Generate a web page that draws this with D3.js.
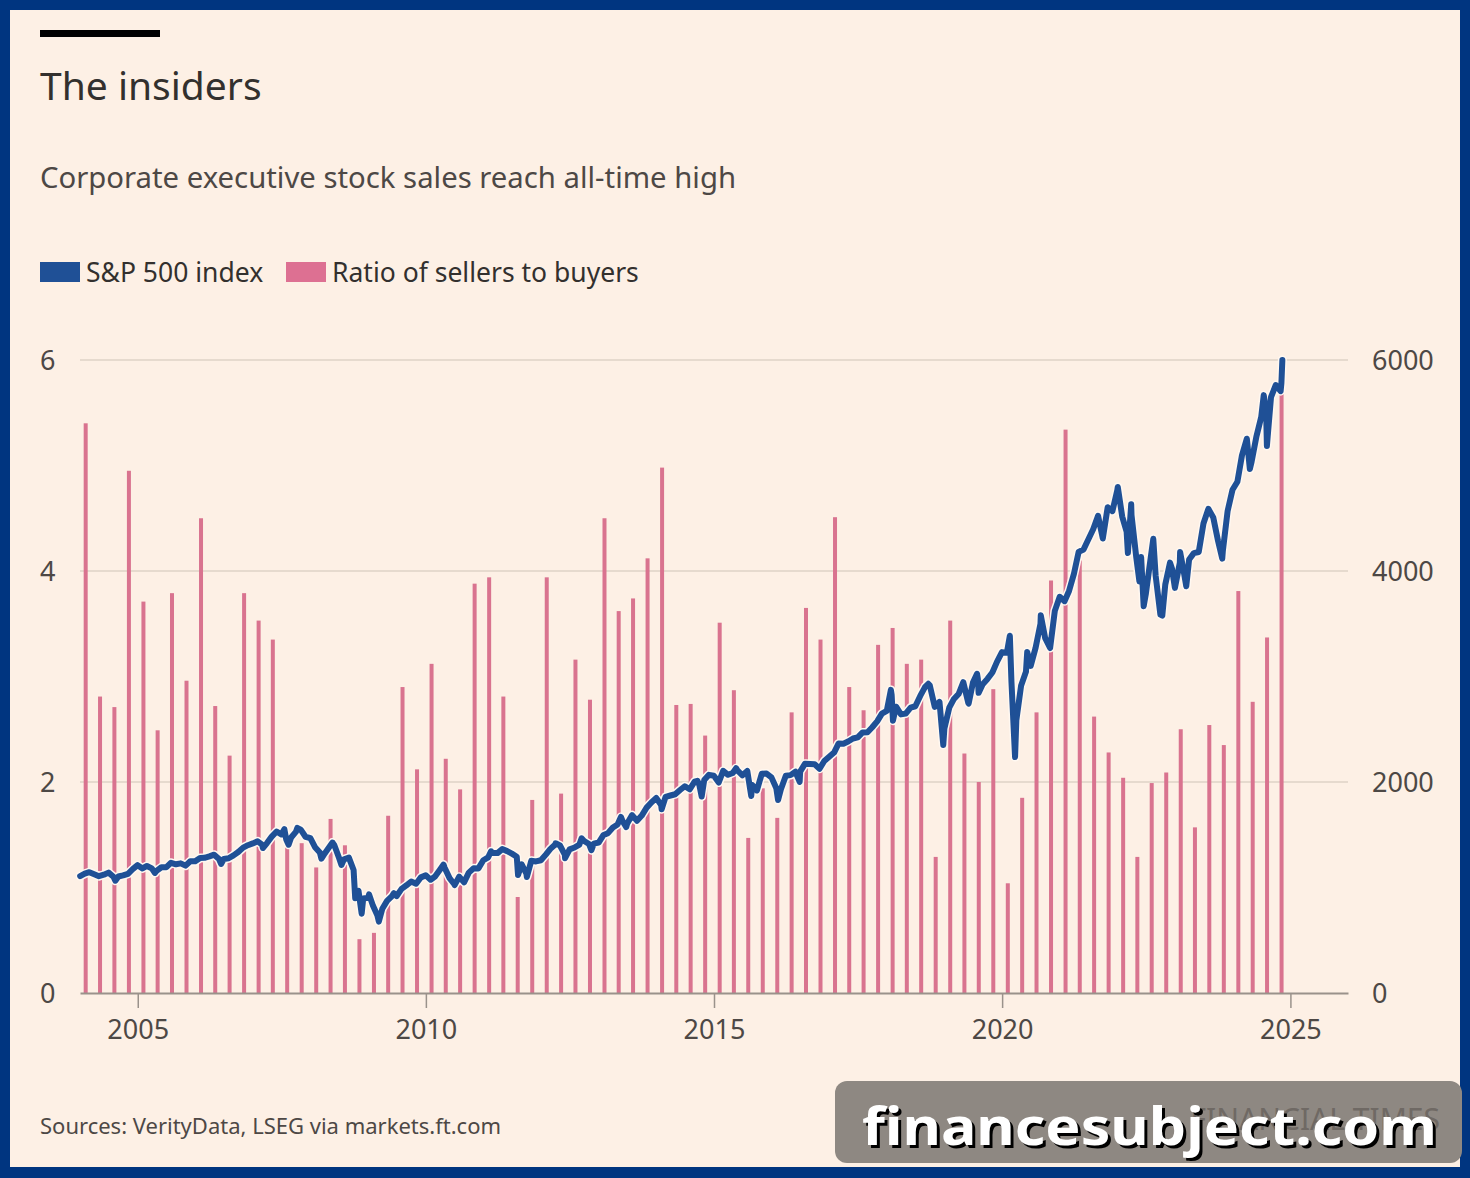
<!DOCTYPE html>
<html>
<head>
<meta charset="utf-8">
<script src="https://cdn.jsdelivr.net/npm/d3@7"></script>
<style>
  html, body { margin: 0; padding: 0; background: #003580; }
  svg { display: block; }
  text { font-family: "Noto Sans", sans-serif; }
</style>
</head>
<body>
<div id="chart"></div>
<script>
// Ratio of sellers to buyers, one value per quarter (Q1..Q4), 2004 to 2024
const barYears = d3.range(2004, 2025);
const ratio = [
  5.40, 2.81, 2.71, 4.95,  // 2004
  3.71, 2.49, 3.79, 2.96,  // 2005
  4.50, 2.72, 2.25, 3.79,  // 2006
  3.53, 3.35, 1.40, 1.42,  // 2007
  1.19, 1.65, 1.40, 0.51,  // 2008
  0.57, 1.68, 2.90, 2.12,  // 2009
  3.12, 2.22, 1.93, 3.88,  // 2010
  3.94, 2.81, 0.91, 1.83,  // 2011
  3.94, 1.89, 3.16, 2.78,  // 2012
  4.50, 3.62, 3.74, 4.12,  // 2013
  4.98, 2.73, 2.74, 2.44,  // 2014
  3.51, 2.87, 1.47, 1.94,  // 2015
  1.66, 2.66, 3.65, 3.35,  // 2016
  4.51, 2.90, 2.68, 3.30,  // 2017
  3.46, 3.12, 3.16, 1.29,  // 2018
  3.53, 2.27, 2.00, 2.88,  // 2019
  1.04, 1.85, 2.66, 3.91,  // 2020
  5.34, 4.10, 2.62, 2.28,  // 2021
  2.04, 1.29, 1.99, 2.09,  // 2022
  2.50, 1.57, 2.54, 2.35,  // 2023
  3.81, 2.76, 3.37, 5.69   // 2024
];

// S&P 500 month-end levels, Jan 2004 .. Oct 2024
const spxStart = "2004-01";
const spxMonthly = [
  1131, 1145, 1126, 1107, 1121, 1141, 1102, 1104, 1115, 1130, 1174, 1212, // 2004
  1181, 1204, 1181, 1157, 1192, 1191, 1234, 1220, 1229, 1207, 1249, 1248, // 2005
  1280, 1281, 1295, 1311, 1270, 1270, 1277, 1304, 1336, 1378, 1401, 1418, // 2006
  1438, 1407, 1421, 1482, 1531, 1503, 1455, 1474, 1527, 1549, 1481, 1468, // 2007
  1379, 1331, 1323, 1386, 1400, 1280, 1267, 1283, 1166,  969,  896,  903, // 2008
   826,  735,  798,  873,  919,  919,  987, 1021, 1057, 1036, 1096, 1115, // 2009
  1074, 1104, 1169, 1187, 1089, 1031, 1102, 1049, 1141, 1183, 1181, 1258, // 2010
  1286, 1327, 1326, 1364, 1345, 1321, 1292, 1219, 1131, 1253, 1247, 1258, // 2011
  1312, 1366, 1408, 1398, 1310, 1362, 1379, 1407, 1441, 1412, 1416, 1426, // 2012
  1498, 1515, 1569, 1598, 1631, 1606, 1686, 1633, 1682, 1757, 1806, 1848, // 2013
  1783, 1859, 1872, 1884, 1924, 1960, 1931, 2003, 1972, 2018, 2068, 2059, // 2014
  1995, 2105, 2068, 2086, 2107, 2063, 2104, 1972, 1920, 2079, 2080, 2044, // 2015
  1940, 1932, 2060, 2065, 2097, 2099, 2174, 2171, 2168, 2126, 2199, 2239, // 2016
  2279, 2364, 2363, 2384, 2412, 2423, 2470, 2472, 2519, 2575, 2648, 2674, // 2017
  2824, 2714, 2641, 2648, 2705, 2718, 2816, 2902, 2914, 2712, 2760, 2507, // 2018
  2704, 2784, 2834, 2946, 2752, 2942, 2980, 2926, 2977, 3038, 3141, 3231, // 2019
  3226, 2954, 2585, 2912, 3044, 3100, 3271, 3500, 3363, 3270, 3622, 3756, // 2020
  3714, 3811, 3973, 4181, 4204, 4298, 4395, 4523, 4308, 4605, 4567, 4766, // 2021
  4516, 4374, 4530, 4132, 4132, 3785, 4130, 3955, 3586, 3872, 4080, 3840, // 2022
  4077, 3970, 4109, 4169, 4180, 4450, 4589, 4508, 4288, 4194, 4568, 4770, // 2023
  4846, 5096, 5254, 5036, 5278, 5460, 5522, 5648, 5762, 5705              // 2024
];

// intra-month highs and lows seen on the line
const spxTurns = [
  ["2004-01-02", 1108], ["2004-08-12", 1064], ["2005-04-20", 1138], ["2006-06-13", 1223],
  ["2007-03-05", 1374], ["2007-07-19", 1553], ["2007-08-15", 1406], ["2007-10-09", 1565],
  ["2008-03-10", 1273], ["2008-05-19", 1426], ["2008-07-15", 1214], ["2008-10-10", 899],
  ["2008-11-20", 752],  ["2009-01-06", 935],  ["2009-03-09", 677],  ["2009-06-12", 946],
  ["2010-04-23", 1217], ["2010-07-02", 1023], ["2011-02-18", 1343], ["2011-08-08", 1119],
  ["2011-10-03", 1099], ["2012-04-02", 1419], ["2012-06-01", 1278], ["2012-09-14", 1466],
  ["2012-11-15", 1353], ["2013-05-21", 1669], ["2013-06-24", 1573], ["2014-02-03", 1742],
  ["2014-09-18", 2011], ["2014-10-15", 1862], ["2015-05-21", 2131], ["2015-08-25", 1868],
  ["2016-02-11", 1829], ["2016-06-27", 2001], ["2018-01-26", 2873], ["2018-02-08", 2581],
  ["2018-09-20", 2931], ["2018-12-24", 2351], ["2019-06-03", 2744], ["2019-07-26", 3026],
  ["2019-08-05", 2845], ["2020-02-19", 3386], ["2020-03-23", 2237], ["2020-06-08", 3232],
  ["2020-09-02", 3580], ["2022-01-03", 4797], ["2022-03-08", 4170], ["2022-03-29", 4632],
  ["2022-05-20", 3901], ["2022-06-16", 3667], ["2022-08-16", 4305], ["2022-10-12", 3577],
  ["2022-12-13", 4019], ["2023-02-02", 4179], ["2023-03-13", 3855], ["2023-10-27", 4117],
  ["2024-04-19", 4967], ["2024-07-16", 5667], ["2024-08-05", 5186], ["2024-11-05", 5782],
  ["2024-11-11", 6001]
];

const leftTicks = [0, 2, 4, 6];
const rightTicks = [0, 2000, 4000, 6000];
const yearTicks = [2005, 2010, 2015, 2020, 2025];

const W = 1470, H = 1178;
const plot = { left: 80, right: 1348, top: 360, bottom: 993 };
const paper = "#fdf0e5";
const blue = "#1f5096";
const pink = "#d9738f";

const parseDay = d3.timeParse("%Y-%m-%d");
const parseMonth = d3.timeParse("%Y-%m");

// build the line series
const monthStart = parseMonth(spxStart);
const spx = spxMonthly.map((v, i) => ({
  date: d3.timeDay.offset(d3.timeMonth.offset(monthStart, i + 1), -1),
  value: v
})).concat(spxTurns.map(d => ({ date: parseDay(d[0]), value: d[1] })))
  .sort((a, b) => a.date - b.date);

// bars, placed a little into each quarter
const bars = ratio.map((v, i) => ({
  date: d3.timeDay.offset(new Date(barYears[0] + Math.floor(i / 4), (i % 4) * 3, 1), 36),
  value: v
}));

const svg = d3.select("#chart").append("svg")
  .attr("width", W).attr("height", H);

svg.append("rect").attr("width", W).attr("height", H).attr("fill", "#003580");
svg.append("rect").attr("x", 10).attr("y", 10)
  .attr("width", W - 20).attr("height", 1157).attr("fill", paper);

const x = d3.scaleTime()
  .domain([new Date(2004, 0, 1), new Date(2026, 0, 1)])
  .range([plot.left, plot.right]);
const yL = d3.scaleLinear().domain([0, 6]).range([plot.bottom, plot.top]);
const yR = d3.scaleLinear().domain([0, 6000]).range([plot.bottom, plot.top]);

// header
svg.append("rect").attr("x", 40).attr("y", 30).attr("width", 120).attr("height", 7).attr("fill", "#000");
svg.append("text").attr("x", 40).attr("y", 100)
  .attr("font-size", 39).attr("fill", "#33302e").text("The insiders");
svg.append("text").attr("x", 40).attr("y", 188)
  .attr("font-size", 29.3).attr("fill", "#4d4845")
  .text("Corporate executive stock sales reach all-time high");

// legend
const legend = [
  { label: "S&P 500 index", color: blue, x: 40 },
  { label: "Ratio of sellers to buyers", color: "#dd7092", x: 286 }
];
const lg = svg.append("g").selectAll("g").data(legend).enter().append("g");
lg.append("rect").attr("x", d => d.x).attr("y", 262).attr("width", 40).attr("height", 20).attr("fill", d => d.color);
lg.append("text").attr("x", d => d.x + 46).attr("y", 282)
  .attr("font-size", 26.5).attr("fill", "#33302e").text(d => d.label);

// gridlines
svg.append("g").selectAll("line").data(leftTicks.filter(d => d > 0)).enter()
  .append("line")
  .attr("x1", plot.left).attr("x2", plot.right)
  .attr("y1", d => yL(d)).attr("y2", d => yL(d))
  .attr("stroke", "#cfc3b8").attr("stroke-width", 1.2);

// bars
svg.append("g").selectAll("rect").data(bars).enter()
  .append("rect")
  .attr("x", d => x(d.date) - 2)
  .attr("width", 4)
  .attr("y", d => yL(d.value))
  .attr("height", d => yL(0) - yL(d.value))
  .attr("fill", pink);

// S&P line with light halo
const line = d3.line().x(d => x(d.date)).y(d => yR(d.value));
svg.append("path").datum(spx).attr("d", line)
  .attr("fill", "none").attr("stroke", "#fff8f1").attr("stroke-width", 9)
  .attr("stroke-linejoin", "round").attr("stroke-linecap", "round");
svg.append("path").datum(spx).attr("d", line)
  .attr("fill", "none").attr("stroke", blue).attr("stroke-width", 6)
  .attr("stroke-linejoin", "round").attr("stroke-linecap", "round");

// x axis
const xAxis = svg.append("g")
  .attr("transform", `translate(0,${plot.bottom})`)
  .call(d3.axisBottom(x)
    .tickValues(yearTicks.map(y => new Date(y, 0, 1)))
    .tickFormat(d3.timeFormat("%Y"))
    .tickSize(15).tickSizeOuter(0).tickPadding(12));
xAxis.select(".domain").attr("stroke", "#9a928b").attr("stroke-width", 2);
xAxis.selectAll(".tick line").attr("stroke", "#9a928b").attr("stroke-width", 1.5);
xAxis.selectAll(".tick text")
  .attr("font-family", "Noto Sans").attr("font-size", 27).attr("fill", "#4d4845");

// left axis labels
svg.append("g").selectAll("text").data(leftTicks).enter()
  .append("text")
  .attr("x", 40).attr("y", d => yL(d)).attr("dy", "0.36em")
  .attr("font-size", 27).attr("fill", "#4d4845").text(d => d);

// right axis labels
svg.append("g").selectAll("text").data(rightTicks).enter()
  .append("text")
  .attr("x", 1372).attr("y", d => yR(d)).attr("dy", "0.36em")
  .attr("font-size", 27).attr("fill", "#4d4845").text(d => d);

// footer
svg.append("text").attr("x", 40).attr("y", 1134)
  .attr("font-size", 22).attr("fill", "#4d4845")
  .text("Sources: VerityData, LSEG via markets.ft.com");

// watermark overlay
svg.append("rect").attr("x", 835).attr("y", 1081).attr("width", 627).attr("height", 82)
  .attr("rx", 12).attr("fill", "#8e8882");
svg.append("text").attr("x", 1440).attr("y", 1130).attr("text-anchor", "end")
  .attr("font-family", "Liberation Serif").attr("font-size", 30).attr("fill", "#6f6964")
  .text("FINANCIAL TIMES");
svg.append("text").attr("x", 865).attr("y", 1148)
  .attr("font-family", "DejaVu Sans").attr("font-weight", "bold").attr("font-size", 52)
  .attr("textLength", 575).attr("lengthAdjust", "spacingAndGlyphs")
  .attr("fill", "#000").text("financesubject.com");
svg.append("text").attr("x", 862).attr("y", 1145)
  .attr("font-family", "DejaVu Sans").attr("font-weight", "bold").attr("font-size", 52)
  .attr("textLength", 575).attr("lengthAdjust", "spacingAndGlyphs")
  .attr("fill", "#fff").text("financesubject.com");
</script>
</body>
</html>
